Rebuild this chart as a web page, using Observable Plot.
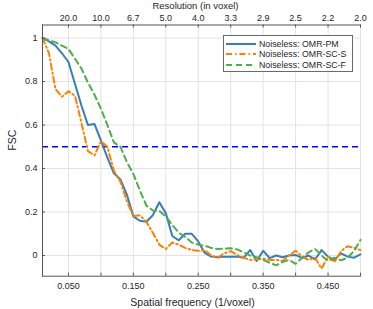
<!DOCTYPE html>
<html><head><meta charset="utf-8">
<script src="https://cdn.jsdelivr.net/npm/d3@7"></script>
<script src="https://cdn.jsdelivr.net/npm/@observablehq/plot@0.6"></script>
<style>
body{margin:0;background:#fff;}
#wrap{position:relative;width:373px;height:309px;font-family:"Liberation Sans",Arial,sans-serif;color:#262626;}
#legend{position:absolute;left:223px;top:35px;width:128px;height:35px;border:1px solid #6a6a6a;background:#fff;font-size:8.8px;}
.row{position:absolute;left:2px;height:11px;display:flex;align-items:center;}
.row svg{display:block;margin-right:3px;}
</style>
</head><body><div id="wrap"></div>
<script>
const freq = [0.01,0.02,0.03,0.04,0.05,0.06,0.07,0.08,0.09,0.10,0.11,0.12,0.13,0.14,0.15,0.16,0.17,0.18,0.19,0.20,0.21,0.22,0.23,0.24,0.25,0.26,0.27,0.28,0.29,0.30,0.31,0.32,0.33,0.34,0.35,0.36,0.37,0.38,0.39,0.40,0.41,0.42,0.43,0.44,0.45,0.46,0.47,0.48,0.49,0.50];
const fscPM = [1.0,0.985,0.965,0.93,0.89,0.79,0.69,0.60,0.605,0.53,0.45,0.378,0.35,0.28,0.18,0.16,0.155,0.185,0.245,0.195,0.09,0.07,0.10,0.10,0.065,0.012,-0.005,-0.008,-0.005,-0.006,-0.005,-0.01,0.025,-0.025,0.022,-0.012,0.0,-0.008,0.0,0.003,-0.012,0.0,-0.018,0.025,-0.005,-0.02,0.01,-0.005,-0.01,0.005];
const fscSCS = [1.0,0.93,0.765,0.73,0.755,0.735,0.61,0.48,0.46,0.525,0.50,0.39,0.34,0.25,0.18,0.185,0.155,0.105,0.05,0.03,0.06,0.05,0.035,0.025,0.022,0.025,0.0,-0.01,0.01,0.02,0.002,-0.01,-0.02,-0.018,-0.015,-0.02,-0.02,-0.025,0.0,0.022,-0.005,-0.02,-0.01,-0.06,-0.005,-0.03,0.02,0.043,0.035,0.025];
const fscSCF = [1.0,0.99,0.98,0.965,0.95,0.905,0.86,0.795,0.74,0.675,0.60,0.52,0.50,0.43,0.375,0.30,0.23,0.207,0.205,0.18,0.14,0.105,0.085,0.06,0.05,0.045,0.035,0.03,0.032,0.033,0.028,0.015,0.0,-0.008,-0.02,-0.033,-0.045,-0.03,-0.02,-0.038,-0.01,0.015,0.03,0.0,-0.025,-0.01,-0.022,-0.01,0.02,0.072];
const seriesNames = ["Noiseless: OMR-PM","Noiseless: OMR-SC-S","Noiseless: OMR-SC-F"];
const threshold = [0.5];
const xTicks = [0.05,0.10,0.15,0.20,0.25,0.30,0.35,0.40,0.45,0.50];
const xLabelTicks = [0.05,0.15,0.25,0.35,0.45];
const xLabelText = ["0.050","0.150","0.250","0.350","0.450"];
const topLabelText = ["20.0","10.0","6.7","5.0","4.0","3.3","2.9","2.5","2.2","2.0"];
const yTicks = [0,0.2,0.4,0.6,0.8,1];
const yLabelText = ["0","0.2","0.4","0.6","0.8","1"];

const W = 373, H = 309, mL = 42, mR = 13, mT = 24.5, mB = 33.3;
const fw = W - mL - mR, fh = H - mT - mB;
const colors = ["#377eb8","#ff7f00","#4daf4a"];
const dashes = [null,"6,3,1.5,3","6,4"];

const mk = (vals) => freq.map((f,i)=>({f, v: vals[i]}));
const series = [mk(fscPM), mk(fscSCS), mk(fscSCF)];
const axisCol = "#555";

const chart = Plot.plot({
  width: W, height: H,
  marginLeft: mL, marginRight: mR, marginTop: mT, marginBottom: mB,
  x: {domain: [0.01, 0.5]},
  y: {domain: [-0.095, 1.06]},
  style: {fontFamily: '"Liberation Sans",Arial,sans-serif', fontSize: "9px", color: "#262626", background: "white"},
  marks: [
    Plot.gridX(xTicks, {stroke: "#e3e3e3", strokeOpacity: 1}),
    Plot.gridY(yTicks, {stroke: "#e3e3e3", strokeOpacity: 1}),
    Plot.ruleY(threshold, {stroke: "#0000ff", strokeWidth: 1.5, strokeDasharray: "6,4"}),
    ...series.map((d,i)=>Plot.line(d, {x:"f", y:"v", stroke: colors[i], strokeWidth: 2, strokeDasharray: dashes[i]})),
    Plot.frame({anchor: "bottom", stroke: axisCol}),
    Plot.frame({anchor: "top", stroke: axisCol}),
    Plot.frame({anchor: "left", stroke: axisCol}),
    Plot.ruleX(xTicks, {insetTop: fh - 3, stroke: axisCol}),
    Plot.ruleX(xTicks, {insetBottom: fh - 3, stroke: axisCol}),
    Plot.ruleY(yTicks, {insetRight: fw - 3, stroke: axisCol}),
    Plot.axisX(xLabelTicks, {anchor: "bottom", tickSize: 0, tickPadding: 6, tickFormat: (d,i)=>xLabelText[i], label: null}),
    Plot.axisX(xTicks, {anchor: "top", tickSize: 0, tickPadding: 4, tickFormat: (d,i)=>topLabelText[i], label: null}),
    Plot.axisY(yTicks, {anchor: "left", tickSize: 0, tickPadding: 5, tickFormat: (d,i)=>yLabelText[i], label: null}),
    Plot.text(["Spatial frequency (1/voxel)"], {frameAnchor: "bottom", lineAnchor: "middle", dy: 26, dx: -9, fontSize: 10.5}),
    Plot.text(["Resolution (in voxel)"], {frameAnchor: "top", lineAnchor: "middle", dy: -19, dx: -6, fontSize: 9.5}),
    Plot.text(["FSC"], {frameAnchor: "left", lineAnchor: "middle", dx: -30, rotate: -90, fontSize: 10.5})
  ]
});
const wrap = document.getElementById("wrap");
wrap.appendChild(chart);

const leg = document.createElement("div");
leg.id = "legend";
seriesNames.forEach((name,i)=>{
  const r = document.createElement("div");
  r.className = "row";
  r.style.top = (2 + i*10.8) + "px";
  r.innerHTML = `<svg width="30" height="6"><line x1="0" x2="30" y1="3" y2="3" stroke="${colors[i]}" stroke-width="2" ${dashes[i]?`stroke-dasharray="${dashes[i]}"`:""}/></svg><span>${name}</span>`;
  leg.appendChild(r);
});
wrap.appendChild(leg);
</script>
</body></html>
